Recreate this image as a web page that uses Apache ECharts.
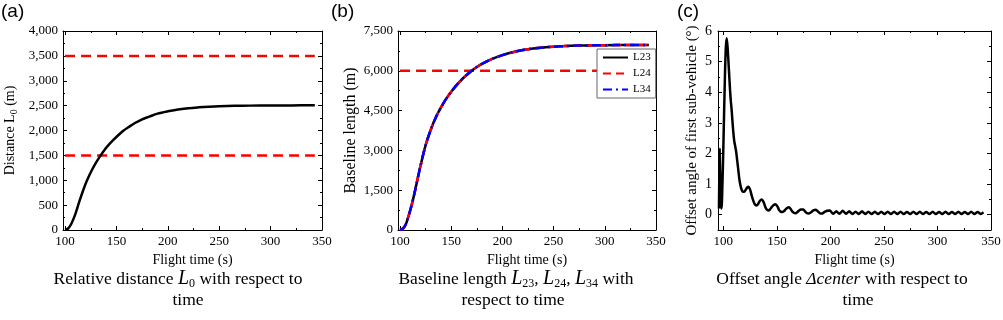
<!DOCTYPE html>
<html>
<head>
<meta charset="utf-8">
<script src="https://cdn.jsdelivr.net/npm/echarts@6/dist/echarts.min.js"></script>
<style>
html,body{margin:0;padding:0;background:#fff;}
#main{width:1003px;height:320px;}
</style>
</head>
<body>
<div id="main"></div>
<script>
// (a) relative distance L0 vs flight time
var distTime = [100,103,106,110,114,118,121,126,130,134,138,142,147,152,157,162,168,175,182,190,200,210,220,230,240,250,265,280,300,320,343];
var distL0 = [0,30,120,320,580,820,980,1200,1350,1480,1600,1700,1810,1910,2000,2070,2150,2225,2280,2340,2385,2420,2448,2465,2478,2487,2495,2500,2502,2505,2508];
var distLimits = [1500, 3500];

// (b) baseline length, L23 / L24 / L34 sit on top of each other
var baseTime = [100,103,106,110,113,116,120,125,130,135,140,145,150,155,160,165,170,175,180,190,200,210,220,230,240,250,260,275,290,310,343];
var baseLen = [0,60,250,750,1200,1720,2420,3200,3780,4250,4620,4940,5210,5450,5660,5840,6000,6140,6260,6450,6590,6700,6780,6840,6880,6910,6930,6950,6960,6968,6975];
var baseLimit = 6000;

// (c) offset angle of first sub-vehicle
var angleTime = [95.9,96.5,97.2,97.9,98.6,99.3,100,100.8,101.6,102.3,103.1,103.9,104.6,105.4,106.2,107,107.8,108.6,109.3,110.2,111,112,113,114,115,116,117,118,119.5,121,122.5,123.5,125,126.5,128,129.5,131,132.5,134,135.8,137.5,139,140.5,142,143.5,145,147,148.8,150.5,152,153.5,155,156.5,158,159.5,161.3,163,164.5,166,167.5,169,170.5,172.5,174.7,176.5,178,180,182,184,186.5,188.5,190.5,192.5,194.5,197,199.5,202.5,205.5,208.5,211.5,214.5,217.5,220.5,223.5,226.5,229.5,232.5,235.5,238.5,241.5,244.5,247.5,250.5,253.5,256.5,259.5,262.5,265.5,268.5,271.5,274.5,277.5,280.5,283.5,286.5,289.5,292.5,295.5,298.5,301.5,304.5,307.5,310.5,313.5,316.5,319.5,322.5,325.5,328.5,331.5,334.5,337.5,340.5,343];
var angleDeg = [0.2,2.15,1.0,0.2,0.35,1.2,2.2,3.5,4.7,5.45,5.76,5.5,5.1,4.6,4.1,3.7,3.4,3.0,2.7,2.4,2.25,2.05,1.75,1.45,1.15,0.95,0.82,0.76,0.75,0.82,0.9,0.91,0.82,0.62,0.45,0.33,0.3,0.35,0.45,0.5,0.42,0.27,0.17,0.14,0.17,0.24,0.32,0.34,0.27,0.16,0.1,0.09,0.11,0.17,0.22,0.24,0.18,0.1,0.06,0.05,0.08,0.13,0.17,0.17,0.1,0.05,0.04,0.08,0.14,0.16,0.1,0.04,0.04,0.09,0.13,0.14,0.03,0.11,0.03,0.13,0.03,0.11,0.02,0.1,0.02,0.11,0.02,0.1,0.02,0.1,0.02,0.1,0.02,0.1,0.02,0.1,0.02,0.1,0.02,0.09,0.02,0.1,0.02,0.1,0.02,0.09,0.02,0.1,0.02,0.09,0.02,0.1,0.02,0.09,0.02,0.1,0.02,0.09,0.02,0.1,0.02,0.09,0.02,0.08];

var limitSpan = [100, 343];

var serif = 'Liberation Serif';
var chart = echarts.init(document.getElementById('main'), null, {renderer: 'canvas'});

function pairs(xs, ys) {
	return xs.map(function (x, i) { return [x, ys[i]]; });
}
function flat(xs, v) {
	return xs.map(function (x) { return [x, v]; });
}

// one side of the boxed frame, ticks pointing inward
function frameAxis(grid, pos, min, max, opts) {
	var ax = {
		gridIndex: grid,
		type: 'value',
		position: pos,
		min: min,
		max: max,
		axisLine: {show: true, onZero: false, lineStyle: {color: '#000', width: 1}},
		axisTick: {show: true, inside: true, length: 4, lineStyle: {color: '#000', width: 1}},
		minorTick: {show: true, splitNumber: 2, length: 2, lineStyle: {color: '#000', width: 1}},
		splitLine: {show: false},
		axisLabel: {show: false}
	};
	return Object.assign(ax, opts || {});
}

function xBottom(grid, min) {
	return frameAxis(grid, 'bottom', min, 350, {
		splitNumber: 5,
		name: 'Flight time (s)',
		nameLocation: 'middle',
		nameGap: 19,
		nameTextStyle: {fontFamily: serif, fontSize: 14, color: '#000'},
		axisLabel: {show: true, showMinLabel: false, margin: 5, fontFamily: serif, fontSize: 13, color: '#000'}
	});
}
function xTop(grid, min) {
	return frameAxis(grid, 'top', min, 350, {splitNumber: 5});
}

var subRich = {
	t: {fontFamily: serif, fontSize: 14, color: '#000'},
	s: {fontFamily: serif, fontSize: 10, color: '#000', padding: [8, 0, 0, 0]}
};
var capRich = {
	i: {fontFamily: serif, fontStyle: 'italic', fontSize: 20, color: '#000'},
	it: {fontFamily: serif, fontStyle: 'italic', fontSize: 17.5, color: '#000'},
	s: {fontFamily: serif, fontSize: 12, color: '#000', padding: [9, 0, 0, 0]}
};
function caption(x, y, text) {
	return {
		type: 'text', x: x, y: y,
		style: {
			text: text, textAlign: 'center', textVerticalAlign: 'middle',
			fontFamily: serif, fontSize: 17.5, fill: '#000', rich: capRich
		}
	};
}

var option = {
	animation: false,
	backgroundColor: '#fff',
	grid: [
		{left: 63, top: 31, width: 259, height: 199, outerBoundsMode: 'none'},
		{left: 398, top: 31, width: 258, height: 199, outerBoundsMode: 'none'},
		{left: 718, top: 31, width: 273, height: 199, outerBoundsMode: 'none'}
	],
	xAxis: [
		xBottom(0, 98), xTop(0, 98),
		xBottom(1, 98), xTop(1, 98),
		xBottom(2, 95), xTop(2, 95)
	],
	yAxis: [
		frameAxis(0, 'left', 0, 4000, {
			interval: 500,
			name: '{t|Distance L}{s|0}{t| (m)}',
			nameLocation: 'middle',
			nameGap: 44,
			nameTextStyle: {rich: subRich},
			axisLabel: {show: true, margin: 5, fontFamily: serif, fontSize: 13, color: '#000'}
		}),
		frameAxis(0, 'right', 0, 4000, {interval: 500}),
		frameAxis(1, 'left', 0, 7500, {
			interval: 1500,
			name: 'Baseline length (m)',
			nameLocation: 'middle',
			nameGap: 39,
			nameTextStyle: {fontFamily: serif, fontSize: 16, color: '#000'},
			axisLabel: {show: true, margin: 5, fontFamily: serif, fontSize: 13, color: '#000'}
		}),
		frameAxis(1, 'right', 0, 7500, {interval: 1500}),
		frameAxis(2, 'left', -0.5, 6, {
			splitNumber: 6,
			name: 'Offset angle of first sub-vehicle (°)',
			nameLocation: 'middle',
			nameGap: 18,
			nameTextStyle: {fontFamily: serif, fontSize: 15, color: '#000'},
			axisLabel: {show: true, showMinLabel: false, margin: 6, fontFamily: serif, fontSize: 14, color: '#000'}
		}),
		frameAxis(2, 'right', -0.5, 6, {splitNumber: 6})
	],
	legend: {
		show: true,
		data: ['L23', 'L24', 'L34'],
		orient: 'vertical',
		left: 597,
		top: 49,
		itemWidth: 25,
		itemHeight: 10,
		itemGap: 5,
		padding: [3, 5, 3, 5],
		backgroundColor: '#fff',
		borderColor: '#666',
		borderWidth: 1,
		borderRadius: 0,
		itemStyle: {opacity: 0},
		textStyle: {fontFamily: serif, fontSize: 11, color: '#000'}
	},
	series: [
		// (a)
		{
			type: 'line', name: 'limitLow', xAxisIndex: 0, yAxisIndex: 0,
			data: flat(limitSpan, distLimits[0]), symbol: 'none', silent: true,
			lineStyle: {color: '#ff0000', width: 2.5, type: [10, 6]}
		},
		{
			type: 'line', name: 'limitHigh', xAxisIndex: 0, yAxisIndex: 0,
			data: flat(limitSpan, distLimits[1]), symbol: 'none', silent: true,
			lineStyle: {color: '#ff0000', width: 2.5, type: [10, 6]}
		},
		{
			type: 'line', name: 'L0', xAxisIndex: 0, yAxisIndex: 0,
			data: pairs(distTime, distL0), symbol: 'none', smooth: 0.3,
			lineStyle: {color: '#000', width: 2.5}
		},
		// (b)
		{
			type: 'line', name: 'limitB', xAxisIndex: 2, yAxisIndex: 2,
			data: flat(limitSpan, baseLimit), symbol: 'none', silent: true,
			lineStyle: {color: '#ff0000', width: 2.5, type: [10, 6]}
		},
		{
			type: 'line', name: 'L23', xAxisIndex: 2, yAxisIndex: 2,
			data: pairs(baseTime, baseLen), symbol: 'none', smooth: 0.3,
			itemStyle: {color: '#000'},
			lineStyle: {color: '#000', width: 2.5}
		},
		{
			type: 'line', name: 'L24', xAxisIndex: 2, yAxisIndex: 2,
			data: pairs(baseTime, baseLen), symbol: 'none', smooth: 0.3,
			itemStyle: {color: '#ff0000'},
			lineStyle: {color: '#ff0000', width: 2.5, type: [8, 5]}
		},
		{
			type: 'line', name: 'L34', xAxisIndex: 2, yAxisIndex: 2,
			data: pairs(baseTime, baseLen), symbol: 'none', smooth: 0.3,
			itemStyle: {color: '#0000ff'},
			lineStyle: {color: '#0000ff', width: 2.5, type: [9, 4, 2, 4]}
		},
		// (c)
		{
			type: 'line', name: 'angle', xAxisIndex: 4, yAxisIndex: 4,
			data: pairs(angleTime, angleDeg), symbol: 'none', smooth: 0.2,
			lineStyle: {color: '#000', width: 2.5}
		}
	],
	graphic: [
		{type: 'text', left: 1, top: 2, style: {text: '(a)', fontFamily: 'Liberation Sans', fontSize: 19, fill: '#000'}},
		{type: 'text', left: 331, top: 2, style: {text: '(b)', fontFamily: 'Liberation Sans', fontSize: 19, fill: '#000'}},
		{type: 'text', left: 677, top: 2, style: {text: '(c)', fontFamily: 'Liberation Sans', fontSize: 19, fill: '#000'}},
		caption(178, 279, 'Relative distance {i|L}{s|0} with respect to'),
		caption(188, 300, 'time'),
		caption(516, 279, 'Baseline length {i|L}{s|23}, {i|L}{s|24}, {i|L}{s|34} with'),
		caption(513, 300, 'respect to time'),
		caption(842, 279, 'Offset angle {it|\u0394center} with respect to'),
		caption(858, 300, 'time')
	]
};

chart.setOption(option);
window.addEventListener('resize', function () {
	chart.resize();
});
</script>
</body>
</html>
